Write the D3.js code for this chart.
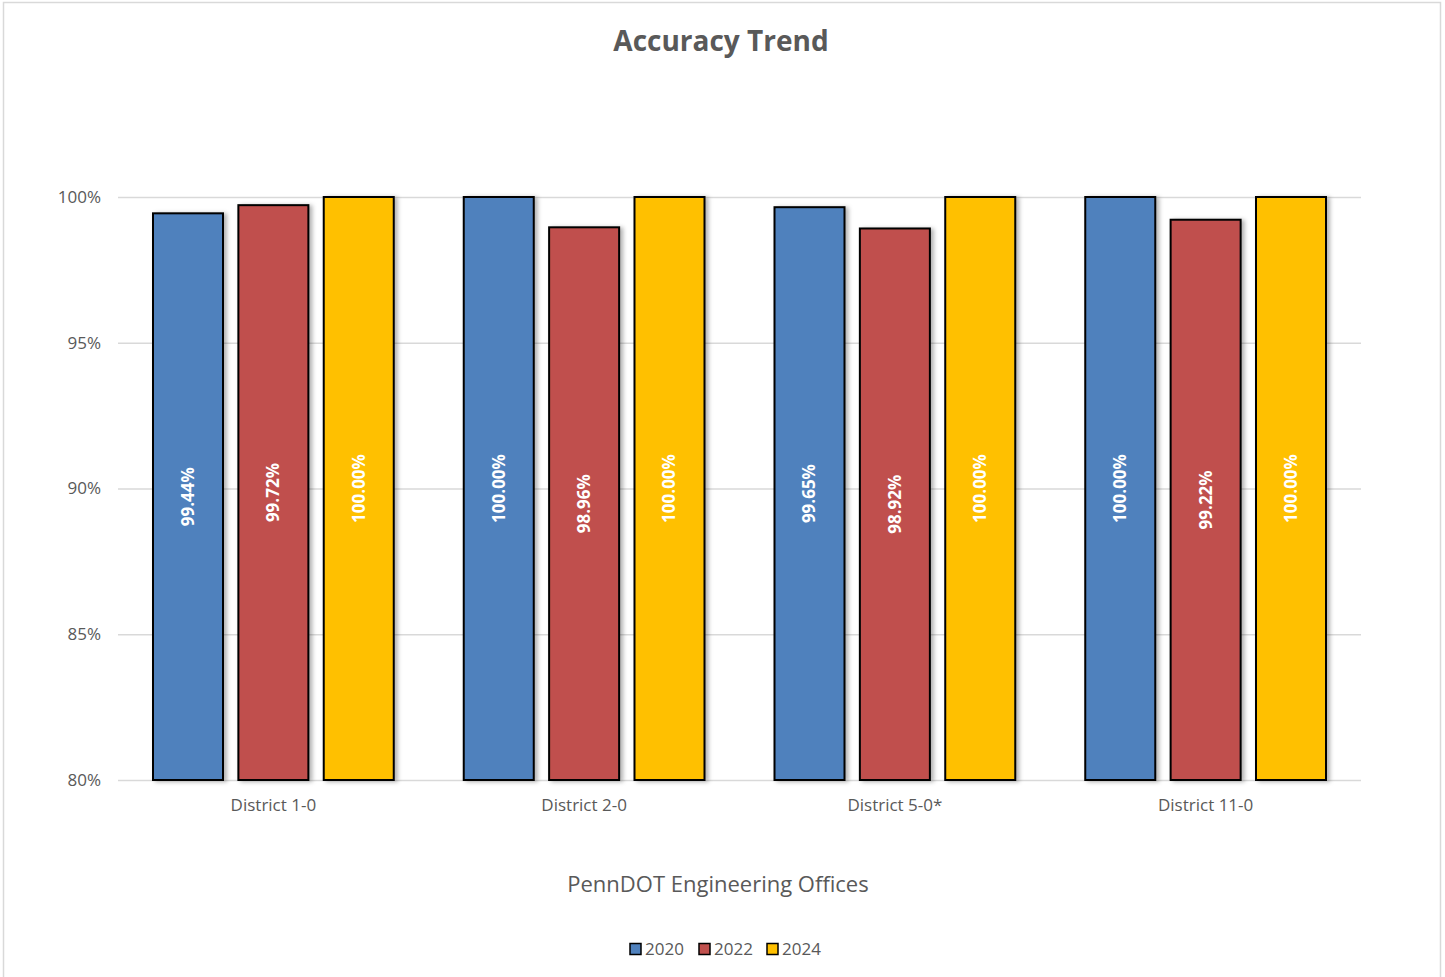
<!DOCTYPE html>
<html>
<head>
<meta charset="utf-8">
<script src="https://cdn.jsdelivr.net/npm/d3@7"></script>
<style>
  body { margin: 0; background: #fff; }
  text { font-family: "Open Sans", "Noto Sans", sans-serif; }
</style>
</head>
<body>
<script>
(function () {

    //chart data
    var districts = ["District 1-0", "District 2-0", "District 5-0*", "District 11-0"];
    var years = ["2020", "2022", "2024"];
    var values2020 = [99.44, 100.00, 99.65, 100.00];
    var values2022 = [99.72, 98.96, 98.92, 99.22];
    var values2024 = [100.00, 100.00, 100.00, 100.00];
    var yTicks = [80, 85, 90, 95, 100];
    var colors = ["#4F81BD", "#C0504D", "#FFC000"];

    var seriesValues = [values2020, values2022, values2024];

    window.onload = drawChart();

    function drawChart(){
        var width = 1445,
            height = 977;

        var svg = d3.select("body")
            .append("svg")
            .attr("width", width)
            .attr("height", height);

        //soft shadow like the office chart
        var defs = svg.append("defs");
        var filter = defs.append("filter")
            .attr("id", "shadow")
            .attr("x", "-20%").attr("y", "-5%")
            .attr("width", "140%").attr("height", "110%");
        filter.append("feDropShadow")
            .attr("dx", 3).attr("dy", 1)
            .attr("stdDeviation", 2)
            .attr("flood-color", "#000")
            .attr("flood-opacity", 0.3);

        //chart frame
        svg.append("rect")
            .attr("x", 3.5).attr("y", 2.5)
            .attr("width", 1437).attr("height", 990)
            .attr("fill", "#fff")
            .attr("stroke", "#d9d9d9")
            .attr("stroke-width", 1.5);

        var plot = { left: 118, right: 1361, top: 197, bottom: 780 };

        var x0 = d3.scaleBand()
            .domain(districts)
            .range([plot.left, plot.right])
            .padding(0);

        var x1 = d3.scaleBand()
            .domain(years)
            .range([35, x0.bandwidth() - 35])
            .paddingInner(0.18)
            .paddingOuter(0);

        var y = d3.scaleLinear()
            .domain([80, 100])
            .range([plot.bottom, plot.top]);

        //gridlines
        svg.append("g")
            .selectAll("line")
            .data(yTicks)
            .enter()
            .append("line")
            .attr("x1", plot.left)
            .attr("x2", plot.right)
            .attr("y1", function (d) { return y(d) + 0.5; })
            .attr("y2", function (d) { return y(d) + 0.5; })
            .attr("stroke", "#d9d9d9")
            .attr("stroke-width", 1.5);

        //y tick labels
        svg.append("g")
            .selectAll("text")
            .data(yTicks)
            .enter()
            .append("text")
            .attr("x", 101)
            .attr("y", function (d) { return y(d); })
            .attr("dy", "0.35em")
            .attr("text-anchor", "end")
            .attr("font-size", 17)
            .attr("fill", "#595959")
            .text(function (d) { return d + "%"; });

        //bars
        var rows = [];
        districts.forEach(function (dist, i) {
            years.forEach(function (yr, j) {
                rows.push({ district: dist, year: yr, value: seriesValues[j][i], color: colors[j] });
            });
        });

        var bars = svg.append("g")
            .selectAll("g")
            .data(rows)
            .enter()
            .append("g")
            .attr("transform", function (d) {
                return "translate(" + (x0(d.district) + x1(d.year)) + ",0)";
            });

        bars.append("rect")
            .attr("x", 0)
            .attr("y", function (d) { return y(d.value); })
            .attr("width", x1.bandwidth())
            .attr("height", function (d) { return y(80) - y(d.value); })
            .attr("fill", function (d) { return d.color; })
            .attr("stroke", "#000")
            .attr("stroke-width", 2)
            .attr("filter", "url(#shadow)");

        bars.append("text")
            .attr("transform", function (d) {
                var cy = (y(d.value) + y(80)) / 2;
                return "translate(" + (x1.bandwidth() / 2) + "," + cy + ") rotate(-90)";
            })
            .attr("text-anchor", "middle")
            .attr("dy", "0.35em")
            .attr("font-size", 17)
            .attr("font-weight", "bold")
            .attr("fill", "#fff")
            .text(function (d) { return d.value.toFixed(2) + "%"; });

        //category labels
        svg.append("g")
            .selectAll("text")
            .data(districts)
            .enter()
            .append("text")
            .attr("x", function (d) { return x0(d) + x0.bandwidth() / 2; })
            .attr("y", 805)
            .attr("dy", "0.35em")
            .attr("text-anchor", "middle")
            .attr("font-size", 17)
            .attr("fill", "#595959")
            .text(function (d) { return d; });

        //title
        svg.append("text")
            .attr("x", 721)
            .attr("y", 41)
            .attr("dy", "0.35em")
            .attr("text-anchor", "middle")
            .attr("font-size", 28)
            .attr("font-weight", "bold")
            .attr("fill", "#595959")
            .text("Accuracy Trend");

        //axis title
        svg.append("text")
            .attr("x", 718)
            .attr("y", 884)
            .attr("dy", "0.35em")
            .attr("text-anchor", "middle")
            .attr("font-size", 22)
            .attr("fill", "#595959")
            .text("PennDOT Engineering Offices");

        //legend
        var legendX = [630, 699, 767];
        var legend = svg.append("g")
            .selectAll("g")
            .data(years)
            .enter()
            .append("g")
            .attr("transform", function (d, i) { return "translate(" + legendX[i] + ",949)"; });

        legend.append("rect")
            .attr("x", 0).attr("y", -5.5)
            .attr("width", 11).attr("height", 11)
            .attr("fill", function (d, i) { return colors[i]; })
            .attr("stroke", "#000")
            .attr("stroke-width", 1.5);

        legend.append("text")
            .attr("x", 15)
            .attr("y", 0)
            .attr("dy", "0.35em")
            .attr("font-size", 17)
            .attr("fill", "#595959")
            .text(function (d) { return d; });
    }

})();
</script>
</body>
</html>
